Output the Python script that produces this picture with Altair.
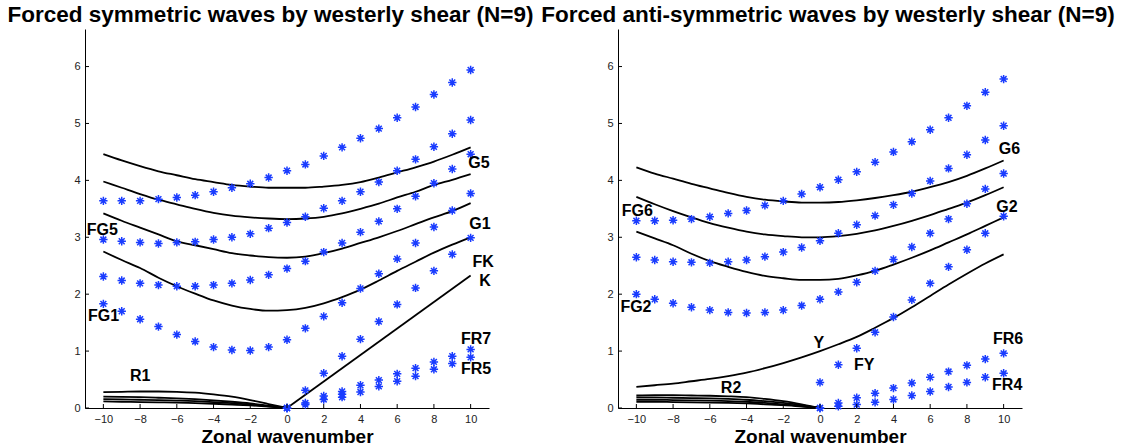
import altair as alt
import pandas as pd

FONT = "Liberation Sans"
BLUE = "#1a3cff"
STAR = "M-1,0L1,0M0,-1L0,1M-0.7,-0.7L0.7,0.7M-0.7,0.7L0.7,-0.7"

K = list(range(-10, 11))
KP = list(range(0, 11))
KN = list(range(-10, 1))
X_TICKS = list(range(-10, 11, 2))
Y_TICKS = [0, 1, 2, 3, 4, 5, 6]

TITLE_L = "Forced symmetric waves by westerly shear (N=9)"
TITLE_R = "Forced anti-symmetric waves by westerly shear (N=9)"
X_TITLE = "Zonal wavenumber"

# ---------------- Left panel: simulated responses (asterisks) ----------------
L_S1 = [3.64, 3.64, 3.64, 3.67, 3.70, 3.74, 3.80, 3.87, 3.94, 4.05, 4.17,
        4.28, 4.43, 4.58, 4.74, 4.91, 5.10, 5.29, 5.51, 5.72, 5.94]
L_S2 = [2.96, 2.93, 2.91, 2.89, 2.91, 2.92, 2.96, 3.00, 3.06, 3.16, 3.26,
        3.36, 3.51, 3.64, 3.80, 3.97, 4.17, 4.37, 4.59, 4.82, 5.06]
L_S3 = [2.31, 2.24, 2.19, 2.16, 2.14, 2.14, 2.16, 2.19, 2.25, 2.34, 2.45,
        2.58, 2.74, 2.90, 3.09, 3.28, 3.50, 3.72, 3.95, 4.20, 4.46]
L_S4 = [1.83, 1.70, 1.56, 1.43, 1.29, 1.17, 1.07, 1.02, 1.01, 1.07, 1.20,
        1.40, 1.61, 1.85, 2.10, 2.36, 2.62, 2.90, 3.18, 3.47, 3.77]
L_FK = [0.0, 0.31, 0.61, 0.91, 1.21, 1.52, 1.82, 2.11, 2.41, 2.70, 2.99]
L_FR7 = [0.0, 0.09, 0.21, 0.29, 0.40, 0.49, 0.60, 0.70, 0.81, 0.91, 1.03]
L_FR5 = [0.0, 0.06, 0.15, 0.24, 0.28, 0.38, 0.47, 0.56, 0.68, 0.78, 0.89]
L_EXTRA_K = [3]
L_EXTRA_W = [0.19]

# ---------------- Left panel: theoretical curves (black lines) ----------------
L_C1 = [4.46, 4.35, 4.25, 4.16, 4.09, 4.02, 3.97, 3.92, 3.89, 3.87, 3.87,
        3.87, 3.89, 3.92, 3.97, 4.05, 4.14, 4.23, 4.33, 4.45, 4.58]
L_C2 = [3.98, 3.87, 3.76, 3.66, 3.58, 3.50, 3.43, 3.38, 3.35, 3.33, 3.32,
        3.33, 3.36, 3.42, 3.50, 3.59, 3.70, 3.80, 3.92, 4.01, 4.11]
L_C3 = [3.42, 3.29, 3.17, 3.05, 2.93, 2.86, 2.79, 2.72, 2.68, 2.65, 2.64,
        2.66, 2.72, 2.80, 2.90, 3.00, 3.11, 3.23, 3.35, 3.46, 3.60]
L_C4 = [2.75, 2.60, 2.46, 2.29, 2.14, 2.01, 1.89, 1.80, 1.74, 1.71, 1.72,
        1.76, 1.84, 1.95, 2.08, 2.24, 2.41, 2.57, 2.73, 2.87, 3.00]
L_K_K = [0, 10]
L_K_W = [0.0, 2.33]
L_R_A = [0.28, 0.285, 0.29, 0.29, 0.285, 0.27, 0.24, 0.20, 0.14, 0.07, 0.0]
L_R_B = [0.20, 0.195, 0.19, 0.18, 0.17, 0.155, 0.135, 0.11, 0.08, 0.04, 0.0]
L_R_C = [0.155, 0.15, 0.145, 0.14, 0.13, 0.12, 0.105, 0.085, 0.06, 0.03, 0.0]
L_R_D = [0.115, 0.11, 0.105, 0.10, 0.095, 0.085, 0.075, 0.06, 0.045, 0.025, 0.0]

L_LAB = ["FG5", "FG1", "R1", "G5", "G1", "FK", "K", "FR7", "FR5"]
L_LAB_K = [-10.9, -10.84, -8.55, 9.87, 9.93, 10.1, 10.47, 9.47, 9.47]
L_LAB_W = [3.12, 1.61, 0.56, 4.31, 3.23, 2.57, 2.24, 1.22, 0.68]

# ---------------- Right panel: simulated responses ----------------
R_S1 = [3.29, 3.29, 3.30, 3.32, 3.36, 3.42, 3.47, 3.56, 3.64, 3.76, 3.88,
        4.01, 4.15, 4.32, 4.50, 4.68, 4.89, 5.10, 5.31, 5.55, 5.78]
R_S2 = [2.65, 2.60, 2.57, 2.56, 2.55, 2.57, 2.60, 2.66, 2.74, 2.82, 2.94,
        3.07, 3.22, 3.38, 3.57, 3.77, 3.99, 4.21, 4.45, 4.71, 4.96]
R_S3 = [2.00, 1.91, 1.84, 1.77, 1.72, 1.68, 1.67, 1.68, 1.72, 1.80, 1.91,
        2.04, 2.21, 2.41, 2.61, 2.83, 3.07, 3.32, 3.59, 3.85, 4.12]
R_FY = [0.45, 0.76, 1.05, 1.33, 1.60, 1.90, 2.19, 2.48, 2.78, 3.07, 3.37]
R_FR6 = [0.0, 0.09, 0.18, 0.26, 0.35, 0.44, 0.54, 0.64, 0.75, 0.86, 0.96]
R_FR4 = [0.0, 0.03, 0.06, 0.10, 0.15, 0.22, 0.29, 0.37, 0.45, 0.54, 0.61]

# ---------------- Right panel: theoretical curves ----------------
R_C1 = [4.23, 4.12, 4.03, 3.94, 3.86, 3.78, 3.71, 3.66, 3.63, 3.61, 3.61,
        3.62, 3.65, 3.69, 3.74, 3.80, 3.88, 3.97, 4.08, 4.21, 4.35]
R_C2 = [3.71, 3.58, 3.46, 3.35, 3.25, 3.17, 3.10, 3.05, 3.02, 3.00, 3.00,
        3.02, 3.06, 3.12, 3.20, 3.29, 3.39, 3.50, 3.61, 3.74, 3.88]
R_C3 = [3.10, 2.98, 2.86, 2.71, 2.58, 2.48, 2.39, 2.32, 2.28, 2.25, 2.25,
        2.27, 2.33, 2.41, 2.52, 2.64, 2.77, 2.91, 3.05, 3.20, 3.35]
R_Y = [0.37, 0.40, 0.43, 0.47, 0.51, 0.56, 0.62, 0.70, 0.79, 0.89, 1.00,
       1.12, 1.25, 1.41, 1.58, 1.77, 1.97, 2.17, 2.36, 2.54, 2.70]
R_R_A = [0.22, 0.225, 0.225, 0.22, 0.215, 0.205, 0.19, 0.16, 0.12, 0.065, 0.0]
R_R_B = [0.185, 0.185, 0.18, 0.175, 0.17, 0.16, 0.145, 0.12, 0.09, 0.05, 0.0]
R_R_C = [0.145, 0.145, 0.14, 0.135, 0.13, 0.12, 0.11, 0.09, 0.065, 0.035, 0.0]
R_R_D = [0.11, 0.11, 0.105, 0.10, 0.095, 0.09, 0.08, 0.065, 0.05, 0.025, 0.0]

R_LAB = ["FG6", "FG2", "R2", "Y", "FY", "FR6", "FR4", "G6", "G2"]
R_LAB_K = [-10.8, -10.87, -5.4, -0.36, 1.85, 9.42, 9.37, 9.74, 9.6]
R_LAB_W = [3.47, 1.77, 0.36, 1.15, 0.75, 1.21, 0.41, 4.55, 3.54]

W, H = 404, 379
Y_MAX = 6.66


def frame(series):
    rows = []
    for name, ks, ws in series:
        for k, w in zip(ks, ws):
            rows.append({"k": k, "w": w, "id": name})
    return pd.DataFrame(rows)


def panel(points, lines, labs, labk, labw, title, dx):
    x_enc = alt.X("k:Q", scale=alt.Scale(domain=[-11, 11], nice=False, zero=False),
                  axis=alt.Axis(values=X_TICKS, title=X_TITLE, format="d",
                                labelPadding=5, titlePadding=3, labelFlush=False))
    y_enc = alt.Y("w:Q", scale=alt.Scale(domain=[0, Y_MAX], nice=False),
                  axis=alt.Axis(values=Y_TICKS, title=None, format="d",
                                labelPadding=5))
    ln = alt.Chart(frame(lines)).mark_line(
        color="black", strokeWidth=1.8, interpolate="monotone"
    ).encode(x=x_enc, y=y_enc, detail="id:N")
    pt = alt.Chart(frame(points)).mark_point(
        shape=STAR, size=70, color=BLUE, strokeWidth=1.5, filled=False, opacity=1
    ).encode(x=x_enc, y=y_enc)
    tx = alt.Chart(pd.DataFrame({"k": labk, "w": labw, "label": labs})).mark_text(
        align="left", baseline="middle", font=FONT, fontSize=16,
        fontWeight="bold", color="black"
    ).encode(x=x_enc, y=y_enc, text="label:N")
    xt = alt.Chart(pd.DataFrame({"k": X_TICKS})).mark_rule(
        color="black", strokeWidth=1
    ).encode(x=x_enc, y=alt.value(H), y2=alt.value(H - 4))
    yt = alt.Chart(pd.DataFrame({"w": Y_TICKS})).mark_rule(
        color="black", strokeWidth=1
    ).encode(y=y_enc, x=alt.value(0), x2=alt.value(4))
    return alt.layer(ln, pt, tx, xt, yt).properties(
        width=W, height=H,
        title=alt.TitleParams(title, font=FONT, fontSize=22.5, fontWeight="bold",
                              color="black", anchor="middle", frame="group",
                              dx=dx, offset=-15, baseline="alphabetic"),
    )


left = panel(
    [("S1", K, L_S1), ("S2", K, L_S2), ("S3", K, L_S3), ("S4", K, L_S4),
     ("FK", KP, L_FK), ("FR7", KP, L_FR7), ("FR5", KP, L_FR5),
     ("EX", L_EXTRA_K, L_EXTRA_W)],
    [("C1", K, L_C1), ("C2", K, L_C2), ("C3", K, L_C3), ("C4", K, L_C4),
     ("K", L_K_K, L_K_W), ("RA", KN, L_R_A), ("RB", KN, L_R_B),
     ("RC", KN, L_R_C), ("RD", KN, L_R_D)],
    L_LAB, L_LAB_K, L_LAB_W, TITLE_L, -16.5)

right = panel(
    [("S1", K, R_S1), ("S2", K, R_S2), ("S3", K, R_S3), ("FY", KP, R_FY),
     ("FR6", KP, R_FR6), ("FR4", KP, R_FR4)],
    [("C1", K, R_C1), ("C2", K, R_C2), ("C3", K, R_C3), ("Y", K, R_Y),
     ("RA", KN, R_R_A), ("RB", KN, R_R_B), ("RC", KN, R_R_C), ("RD", KN, R_R_D)],
    R_LAB, R_LAB_K, R_LAB_W, TITLE_R, 8)

chart = alt.hconcat(left, right, spacing=129, bounds="flush").properties(
    padding={"left": 7, "top": 3, "right": 5, "bottom": 5}
).configure_view(stroke=None).configure_axis(
    domainColor="black", domainWidth=1, labelFont=FONT, labelFontSize=11,
    labelColor="#222222", titleFont=FONT, titleFontSize=19,
    titleFontWeight="bold", titleColor="black", grid=False, ticks=False,
    tickSize=0
)

chart.save("out.html", embed_options={"renderer": "svg", "actions": False})
